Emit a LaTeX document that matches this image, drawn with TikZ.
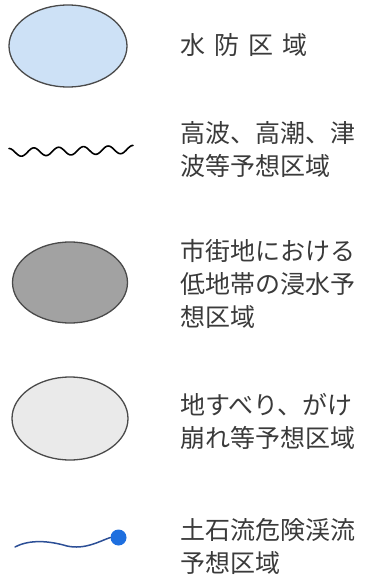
\documentclass[tikz,border=0pt]{standalone}
\usepackage{fontspec}
\newfontfamily\jpfont{Noto Sans CJK JP}
\definecolor{stroke}{HTML}{4A4A4A}
\definecolor{bluefill}{HTML}{CDE1F6}
\definecolor{darkfill}{HTML}{A2A2A2}
\definecolor{lightfill}{HTML}{EAEAEA}
\definecolor{txt}{HTML}{3A3A3A}
\definecolor{wire}{HTML}{2C4F96}
\definecolor{dotblue}{HTML}{1E6FDF}
\tikzset{
  legendshape/.style={draw=stroke, line width=1.3pt},
  label/.style={anchor=west, inner sep=0pt, align=left, text=txt,
    font=\jpfont\fontsize{25}{33}\selectfont},
}
\begin{document}
\begin{tikzpicture}[x=1pt,y=-1pt]
\useasboundingbox (0,0) rectangle (365,575);
% 1 water defence area
\draw[legendshape, fill=bluefill] (68,46) ellipse [x radius=59, y radius=41];
\node[label] (t1) at (180,45) {水\hskip 9pt 防\hskip 9pt 区\hskip 9pt 域};
% 2 wavy line
\draw[stroke, line width=1.6pt, line cap=round, line join=round]
  plot[domain=0:124, samples=120, smooth] ({9+\x},{152.5-0.025*\x+4*sin(-90+14.516*\x)});
\node[label] (t2) at (180,150) {高波、高潮、津\\波等予想区域};
% 3 low-lying urban flooding
\draw[legendshape, fill=darkfill] (70,282.5) ellipse [x radius=57.5, y radius=40.5];
\node[label] (t3) at (180,284) {市街地における\\低地帯の浸水予\\想区域};
% 4 landslide
\draw[legendshape, fill=lightfill] (70,418.5) ellipse [x radius=58, y radius=41.5];
\node[label] (t4) at (180,421) {地すべり、がけ\\崩れ等予想区域};
% 5 debris flow
\coordinate (b0) at (15,547);
\node[circle, fill=dotblue, inner sep=0pt, minimum size=16pt] (dot) at (118.5,537.5) {};
\draw[wire, line width=1.5pt, line cap=round]
  (b0) .. controls (30,539) and (50,541) .. (67,546)
       .. controls (85,550) and (100,541) .. (dot.west);
\node[label] (t5) at (180,546) {土石流危険渓流\\予想区域};
\end{tikzpicture}
\end{document}
